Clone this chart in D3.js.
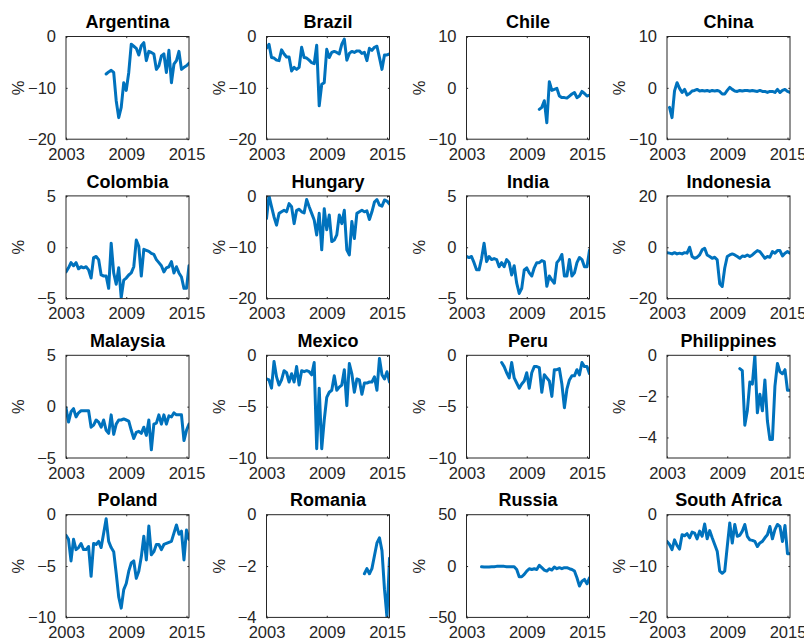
<!DOCTYPE html>
<html>
<head>
<meta charset="utf-8">
<script src="https://cdn.jsdelivr.net/npm/d3@7"></script>
<style>
  html, body { margin: 0; padding: 0; background: #fff; }
  svg { display: block; }
</style>
</head>
<body>
<svg id="chart" width="804" height="644"></svg>
<script>
// Quarterly observations, 2003Q1 onwards (null = no data for that quarter)
const quarterCount = 50;
const dates = d3.range(quarterCount).map(i => 2003 + i / 4);

const countries = ["Argentina", "Brazil", "Chile", "China",
                   "Colombia", "Hungary", "India", "Indonesia",
                   "Malaysia", "Mexico", "Peru", "Philippines",
                   "Poland", "Romania", "Russia", "South Africa"];

const argentina = [null, null, null, null, null, null, null, null, null, null,
  null, null, null, null, null, null,
  -7.3, -6.9, -6.6, -7.0, -12.5, -15.8, -13.8, -9.0, -10.5, -7.0,
  -1.5, -1.9, -2.3, -3.6, -1.8, -1.2, -4.7, -2.9, -3.1, -3.4,
  -6.4, -5.7, -3.8, -3.4, -7.0, -2.7, -9.0, -5.4, -4.7, -2.9,
  -6.4, -6.0, -5.7, -5.2];

const brazil = [-2.3, -1.5, -4.1, -4.2, -4.6, -4.7, -2.6, -3.4, -4.0, -4.0,
  -6.7, -6.0, -6.4, -6.0, -2.1, -4.1, -4.2, -4.6, -5.1, -5.3,
  -1.7, -13.5, -9.3, -9.0, -2.5, -4.1, -3.1, -2.9, -3.1, -3.4,
  -1.5, -0.5, -4.6, -3.3, -2.9, -3.1, -2.8, -2.8, -3.3, -3.1,
  -4.7, -2.3, -2.7, -2.1, -1.9, -4.1, -6.4, -3.6, -3.6, -3.4];

const chile = [null, null, null, null, null, null, null, null, null, null,
  null, null, null, null, null, null, null, null, null, null,
  null, null, null, null, null, null, null, null, null,
  -4.2, -3.8, -2.5, -6.8, 1.2, -0.5, -0.3, -0.1, -1.6, -1.9,
  -1.9, -2.0, -1.6, -1.2, -0.9, -1.9, -1.6, -0.7, -1.1, -1.6, -1.4];

const china = [null,
  -3.8, -5.8, -0.6, 1.0, -0.1, -0.9, -0.3, -1.4, -1.1, -0.6,
  -0.5, -0.3, -0.6, -0.5, -0.6, -0.5, -0.7, -0.5, -0.6, -0.5,
  -0.7, -1.2, -1.2, -0.5, 0.1, -0.3, -0.6, -0.7, -0.5, -0.6,
  -0.5, -0.5, -0.6, -0.5, -0.6, -0.7, -0.5, -0.7, -0.7, -0.9,
  -0.7, -0.7, -0.9, -0.3, -0.9, -0.5, -0.3, -0.7, -0.9];

const colombia = [-2.4, -2.0, -1.5, -1.8, -1.5, -2.1, -1.9, -2.0, -1.9, -2.2,
  -3.0, -1.0, -0.9, -1.2, -2.7, -2.8, -2.8, -4.0, 0.4, -2.5,
  -3.6, -2.0, -4.9, -3.2, -3.0, -2.7, -2.5, -1.9, 0.7, 0.1,
  -2.8, -0.2, -0.3, -0.4, -0.6, -0.7, -1.2, -1.5, -1.8, -2.4,
  -2.0, -1.9, -1.4, -2.5, -1.9, -2.5, -2.9, -4.0, -4.0, -1.8];

const hungary = [-4.4, 0, -2.1, -4.1, -5.7, -3.4, -3.1, -2.8, -3.1, -1.5,
  -2.1, -5.4, -2.8, -2.6, -3.1, -3.3, -0.7, -2.1, -3.4, -4.7,
  -7.6, -3.4, -10.5, -2.5, -6.6, -3.7, -8.9, -8.6, -7.6, -3.7,
  -5.4, -2.8, -10.5, -11.5, -5.0, -8.3, -3.4, -3.1, -2.8, -3.1,
  -2.9, -4.6, -3.1, -1.2, -0.7, -1.8, -2.0, -0.8, -1.0, -1.6];

const india = [-0.9, -1.0, -0.9, -1.5, -2.2, -2.2, -1.1, 0.4, -1.4, -0.9,
  -1.2, -1.1, -1.2, -1.9, -1.5, -1.9, -1.2, -1.5, -2.7, -1.8,
  -3.5, -4.5, -4.0, -2.2, -2.0, -2.5, -2.8, -2.0, -1.5, -1.5,
  -1.3, -1.4, -3.8, -2.8, -3.2, -3.5, -1.5, -1.2, -0.7, -2.8,
  -2.8, -1.2, -2.8, -2.5, -1.5, -1.0, -1.2, -1.9, -1.9, -0.3];

const indonesia = [-2.1, -2.3, -2.6, -2.1, -2.6, -2.3, -2.6, -2.1, -2.3, 0,
  -3.6, -4.3, -3.9, -3.0, -1.0, -0.4, -3.0, -3.6, -4.3, -3.9,
  -4.9, -14.2, -15.3, -8.1, -3.6, -3.0, -2.6, -3.0, -3.6, -4.3,
  -3.4, -3.6, -3.0, -3.6, -3.0, -2.1, -1.3, -1.7, -3.0, -4.3,
  -3.6, -3.9, -1.7, -2.3, -1.3, -1.3, -3.4, -2.3, -1.7, -2.3];

const malaysia = [-0.1, -1.5, -0.5, -0.2, -1.0, -0.6, -0.4, -0.4, -0.4, -0.4,
  -2.0, -1.8, -1.3, -1.5, -2.0, -1.3, -2.3, -2.6, -0.8, -2.7,
  -1.7, -1.3, -1.3, -1.2, -1.3, -1.4, -2.3, -3.1, -2.5, -2.4,
  -2.6, -2.0, -2.8, -1.3, -4.2, -1.7, -1.6, -0.8, -1.7, -0.8,
  -1.7, -0.9, -1.0, -0.6, -0.8, -0.8, -0.8, -3.3, -2.3, -1.7];

const mexico = [-2.3, -2.4, -3.2, -0.6, -2.1, -2.9, -2.4, -1.5, -1.7, -2.6,
  -1.8, -2.6, -1.1, -2.9, -1.5, -1.6, -1.5, -1.6, -1.9, -0.7,
  -9.1, -3.2, -9.1, -6.3, -4.1, -3.6, -3.4, -2.0, -3.4, -3.1,
  -2.9, -1.4, -4.9, -0.8, -1.8, -3.6, -2.3, -2.4, -3.8, -2.7,
  -2.7, -2.6, -2.6, -2.1, -3.4, -0.3, -1.9, -2.3, -1.6, -2.6];

const peru = [null, null, null, null, null, null, null, null, null, null,
  null, null, null, null,
  -0.7, -1.1, -1.7, -2.2, -0.7, -2.2,
  -2.7, -3.2, -2.8, -2.5, -1.7, -3.2, -1.7, -1.1, -1.1, -1.2,
  -3.6, -1.9, -2.2, -2.5, -4.0, -1.4, -1.4, -1.3, -2.8, -5.1,
  -3.3, -2.4, -2.0, -2.0, -1.4, -1.9, -0.7, -1.1, -1.1, -1.8];

const philippines = [null, null, null, null, null, null, null, null, null, null,
  null, null, null, null, null, null, null, null, null, null,
  null, null, null, null, null, null, null, null, null,
  -0.65, -0.75, -3.4, -2.7, -1.3, -1.4, 0, -2.8, -1.9, -2.7,
  -1.2, -3.2, -4.1, -4.1, -1.5, -0.4, -0.8, -0.9, -0.7, -1.7, -1.7];

const poland = [-2.0, -2.4, -4.5, -2.4, -3.4, -3.2, -2.8, -3.4, -3.4, -3.1,
  -6.0, -2.8, -2.9, -2.6, -3.2, -1.8, -0.4, -2.6, -3.2, -3.6,
  -5.7, -8.0, -9.1, -7.3, -6.7, -5.5, -4.7, -4.5, -6.2, -5.5,
  -4.1, -2.1, -4.4, -1.1, -3.9, -3.6, -2.9, -2.9, -3.4, -2.9,
  -2.8, -2.7, -2.6, -1.8, -1.0, -1.9, -1.6, -4.4, -1.5, -2.4];

const romania = [null, null, null, null, null, null, null, null, null, null,
  null, null, null, null, null, null, null, null, null, null,
  null, null, null, null, null, null, null, null, null, null,
  null, null, null, null, null, null, null, null, null,
  -2.3, -2.1, -2.3, -2.1, -1.6, -1.1, -0.9, -1.4, -2.9, -4.0, -1.7];

const russia = [null, null, null, null, null, null,
  -0.7, -1.0, -1.0, -1.0,
  -0.7, -0.7, -0.3, -0.3, -0.3, -0.3, -0.7, -0.7, -0.7, -0.7,
  -3.3, -10.4, -10.4, -8.1, -4.9, -2.6, -3.3, -2.6, -3.3, 0.7,
  -1.6, -3.9, -4.9, -2.6, -3.9, -1.0, -2.6, -1.6, -2.6, -1.6,
  -1.6, -2.6, -3.3, -4.9, -11.4, -19.5, -14.7, -13.0, -17.3, -11.4];

const southAfrica = [-5.2, -5.8, -6.8, -4.9, -6.0, -6.7, -3.9, -4.1, -3.7, -4.5,
  -3.4, -3.6, -4.7, -3.2, -4.2, -1.8, -4.7, -3.1, -4.5, -5.8,
  -7.1, -11.0, -11.4, -11.0, -6.2, -1.6, -5.5, -1.9, -4.2, -4.0,
  -3.2, -1.9, -4.2, -4.9, -5.0, -5.2, -6.2, -5.5, -5.2, -4.5,
  -3.9, -2.3, -4.7, -2.9, -1.9, -2.3, -5.2, -2.1, -7.6, -7.6];

const seriesValues = [argentina, brazil, chile, china,
                      colombia, hungary, india, indonesia,
                      malaysia, mexico, peru, philippines,
                      poland, romania, russia, southAfrica];

const yLimits = [[-20, 0], [-20, 0], [-10, 10], [-10, 10],
                 [-5, 5], [-20, 0], [-5, 5], [-20, 20],
                 [-5, 5], [-10, 0], [-10, 0], [-5, 0],
                 [-10, 0], [-4, 0], [-50, 50], [-20, 0]];

const yTickValues = [[-20, -10, 0], [-20, -10, 0], [-10, 0, 10], [-10, 0, 10],
                     [-5, 0, 5], [-20, -10, 0], [-5, 0, 5], [-20, 0, 20],
                     [-5, 0, 5], [-10, -5, 0], [-10, -5, 0], [-4, -2, 0],
                     [-10, -5, 0], [-4, -2, 0], [-50, 0, 50], [-20, -10, 0]];

const xTickValues = [2003, 2009, 2015];
const xLimits = [2003, 2015.25];
const yLabel = "%";

// ---- layout ----
const colLeft = [66, 266.5, 466.5, 667];
const rowTop = [36.5, 195.9, 355.3, 514.7];
const plotW = 123;
const plotH = 102.7;

const axisColor = "#262626";
const lineColor = "#0072BD";
const fontFamily = "'Liberation Sans', Arial, Helvetica, sans-serif";
const tickLen = 1.6;

const svg = d3.select("#chart");
svg.append("rect").attr("width", 804).attr("height", 644).attr("fill", "#fff");

countries.forEach((name, k) => {
  const col = k % 4, row = Math.floor(k / 4);
  const x0 = colLeft[col], y0 = rowTop[row];

  const x = d3.scaleLinear().domain(xLimits).range([x0, x0 + plotW]);
  const y = d3.scaleLinear().domain(yLimits[k]).range([y0 + plotH, y0]);

  const g = svg.append("g").attr("class", "panel");

  const clipId = "clip" + k;
  svg.append("clipPath").attr("id", clipId)
    .append("rect").attr("x", x0).attr("y", y0).attr("width", plotW).attr("height", plotH);

  // data line
  const pts = dates.map((d, i) => ({ t: d, v: seriesValues[k][i] }));
  const line = d3.line()
    .defined(p => p.v !== null)
    .x(p => x(p.t))
    .y(p => y(p.v));

  g.append("path")
    .datum(pts)
    .attr("clip-path", `url(#${clipId})`)
    .attr("fill", "none")
    .attr("stroke", lineColor)
    .attr("stroke-width", 3)
    .attr("stroke-linejoin", "round")
    .attr("stroke-linecap", "round")
    .attr("d", line);

  // axes: bottom / left with labels, top / right ticks only (boxed axes)
  const bottom = d3.axisBottom(x).tickValues(xTickValues).tickFormat(d3.format("d"))
    .tickSizeInner(-tickLen).tickSizeOuter(0).tickPadding(9);
  const top = d3.axisTop(x).tickValues(xTickValues).tickFormat("")
    .tickSizeInner(-tickLen).tickSizeOuter(0);
  const left = d3.axisLeft(y).tickValues(yTickValues[k]).tickFormat(d3.format("d"))
    .tickSizeInner(-tickLen).tickSizeOuter(0).tickPadding(10);
  const right = d3.axisRight(y).tickValues(yTickValues[k]).tickFormat("")
    .tickSizeInner(-tickLen).tickSizeOuter(0);

  const styleAxis = sel => {
    sel.select(".domain").remove();
    sel.selectAll("line").attr("stroke", axisColor).attr("stroke-width", 1);
    sel.selectAll("text").attr("fill", axisColor)
      .style("font-family", fontFamily).style("font-size", "16.5px");
  };

  g.append("g").attr("transform", `translate(0,${y0 + plotH})`).call(bottom).call(styleAxis);
  g.append("g").attr("transform", `translate(0,${y0})`).call(top).call(styleAxis);
  g.append("g").attr("transform", `translate(${x0},0)`).call(left).call(styleAxis);
  g.append("g").attr("transform", `translate(${x0 + plotW},0)`).call(right).call(styleAxis);

  // box
  g.append("rect")
    .attr("x", x0).attr("y", y0).attr("width", plotW).attr("height", plotH)
    .attr("fill", "none").attr("stroke", axisColor).attr("stroke-width", 1);

  // title
  g.append("text")
    .attr("x", x0 + plotW / 2).attr("y", y0 - 8.4)
    .attr("text-anchor", "middle")
    .style("font-family", fontFamily).style("font-size", "18px").style("font-weight", "bold")
    .attr("fill", "#000")
    .text(name);

  // y label
  g.append("text")
    .attr("transform", `translate(${x0 - 42},${y0 + plotH / 2}) rotate(-90)`)
    .attr("text-anchor", "middle")
    .style("font-family", fontFamily).style("font-size", "16.5px")
    .attr("fill", axisColor)
    .text(yLabel);
});
</script>
</body>
</html>
